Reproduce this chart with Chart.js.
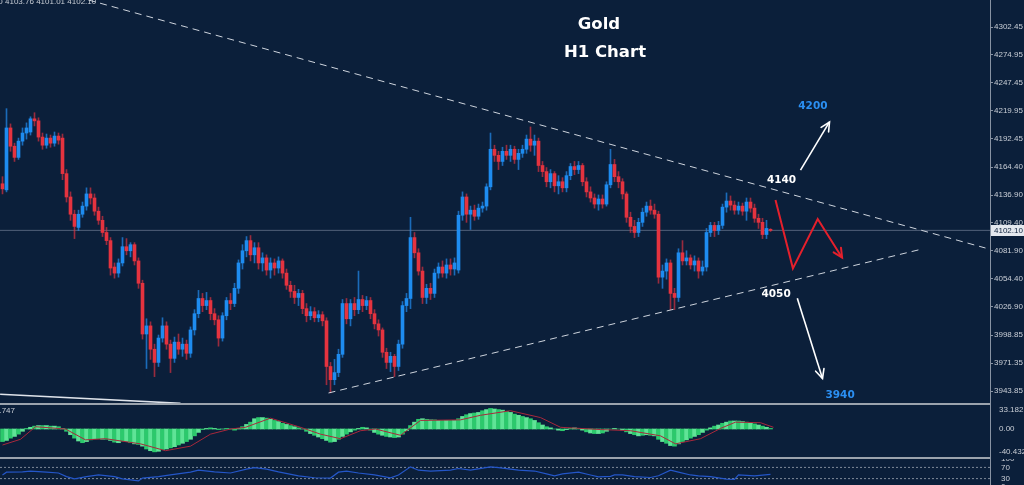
<!DOCTYPE html>
<html>
<head>
<meta charset="utf-8">
<script src="https://cdn.jsdelivr.net/npm/chart.js@4.4.0/dist/chart.umd.min.js"></script>
<style>
  html, body { margin: 0; padding: 0; background: #0b1f3a; width: 1024px; height: 485px; overflow: hidden; }
  canvas { position: absolute; left: 0; }
  #main { top: 0; }
  #macd { top: 405px; }
  #osc { top: 459px; }
  .sep { position: absolute; left: 0; width: 990px; height: 2px; background: #9ba3ad; }
  #vline { position: absolute; left: 990px; top: 0; width: 1px; height: 485px; background: #8893a3; }
</style>
</head>
<body>
<canvas id="main" width="1024" height="403"></canvas>
<canvas id="macd" width="1024" height="52"></canvas>
<canvas id="osc" width="1024" height="28"></canvas>
<div class="sep" style="top:403px"></div>
<div class="sep" style="top:457px"></div>
<div id="vline"></div>
<script>
// H1 candles, oldest first
const opens = [4148,4142,4203,4185,4174,4190,4198,4199,4212,4210,4194,4186,4193,4188,4195,4193,4158,4135,4118,4105,
  4118,4126,4138,4134,4121,4112,4100,4092,4066,4060,4070,4086,4082,4088,4072,4050,4000,4008,3985,3972,
  3996,4008,3990,3976,3992,3985,3990,3981,4004,4020,4035,4028,4033,4020,4014,3996,4018,4033,4030,4045,
  4070,4082,4092,4078,4085,4070,4075,4063,4070,4065,4072,4060,4048,4042,4036,4040,4025,4018,4022,4016,
  4019,4013,3968,3955,3962,3980,4030,4015,4030,4024,4034,4028,4033,4020,4010,4004,3982,3972,3978,3968,
  3990,4028,4035,4095,4080,4062,4036,4045,4040,4060,4066,4060,4068,4064,4063,4117,4135,4118,4122,4116,
  4124,4126,4145,4182,4176,4170,4180,4176,4182,4172,4178,4182,4192,4186,4190,4166,4160,4150,4158,4146,
  4150,4144,4156,4165,4162,4166,4150,4140,4134,4128,4133,4128,4147,4167,4155,4150,4138,4115,4106,4100,
  4110,4120,4126,4122,4118,4056,4062,4070,4040,4036,4080,4072,4075,4068,4072,4062,4066,4100,4107,4102,
  4107,4125,4131,4127,4122,4126,4121,4130,4124,4114,4110,4098,4102.5];
const highs = [4155,4222,4207,4188,4193,4203,4208,4214,4218,4213,4198,4197,4196,4199,4198,4197,4162,4140,4122,4122,
  4130,4144,4144,4138,4125,4116,4105,4095,4070,4074,4095,4094,4090,4090,4075,4053,4015,4012,3990,3999,
  4016,4012,3994,3997,4000,3996,3994,4007,4024,4043,4040,4041,4036,4025,4018,4021,4036,4040,4050,4073,
  4088,4096,4097,4090,4090,4080,4078,4075,4074,4076,4074,4064,4052,4048,4044,4043,4030,4027,4026,4023,
  4022,4016,3972,3975,3985,4034,4035,4034,4036,4062,4038,4037,4036,4024,4014,4006,3986,3982,3980,3994,
  4032,4040,4115,4100,4084,4066,4049,4050,4064,4070,4072,4074,4074,4075,4121,4140,4138,4126,4127,4128,
  4130,4148,4198,4186,4180,4184,4186,4186,4185,4182,4186,4196,4204,4196,4193,4170,4164,4162,4160,4156,
  4154,4160,4168,4170,4170,4168,4154,4145,4138,4137,4137,4150,4182,4172,4160,4153,4140,4120,4112,4114,
  4124,4130,4132,4128,4121,4068,4074,4073,4045,4084,4092,4082,4078,4077,4075,4072,4104,4110,4110,4111,
  4128,4139,4136,4131,4130,4129,4134,4134,4128,4118,4114,4112,4103.76];
const lows = [4138,4140,4180,4170,4172,4186,4192,4196,4205,4190,4182,4183,4184,4185,4187,4152,4130,4112,4094,4102,
  4115,4122,4128,4117,4108,4096,4088,4058,4055,4056,4067,4078,4076,4068,4045,3995,3966,3975,3958,3968,
  3992,3985,3962,3972,3980,3978,3975,3977,3999,4016,4022,4024,4014,4009,3988,3993,4014,4024,4027,4040,
  4064,4076,4072,4070,4064,4062,4058,4055,4058,4060,4055,4044,4036,4030,4028,4020,4012,4014,4012,4012,
  4008,3950,3942,3950,3958,3977,4010,4008,4018,4020,4022,4024,4015,4005,3998,3977,3966,3963,3958,3964,
  3986,4022,4025,4075,4058,4030,4030,4034,4036,4055,4056,4055,4058,4058,4060,4112,4110,4103,4112,4113,
  4120,4122,4142,4170,4162,4166,4172,4170,4168,4162,4174,4178,4180,4176,4160,4155,4145,4144,4140,4138,
  4140,4140,4152,4157,4158,4146,4135,4130,4124,4122,4124,4126,4144,4150,4144,4133,4110,4100,4095,4096,
  4106,4116,4118,4114,4050,4045,4054,4024,4024,4032,4068,4068,4064,4062,4055,4058,4062,4096,4096,4098,
  4104,4120,4122,4118,4118,4117,4112,4120,4110,4104,4094,4094,4101.01];
const closes = [4143,4203,4185,4174,4190,4198,4203,4212,4210,4194,4186,4193,4188,4195,4191,4158,4135,4118,4106,4118,
  4126,4138,4134,4121,4112,4100,4092,4065,4060,4070,4086,4082,4088,4072,4050,4000,4008,3985,3972,3996,
  4008,3990,3976,3992,3985,3990,3981,4004,4020,4035,4028,4033,4020,4014,3996,4018,4033,4030,4045,4070,
  4082,4092,4078,4085,4070,4075,4063,4070,4065,4072,4060,4048,4042,4036,4040,4025,4018,4022,4016,4019,
  4013,3968,3955,3962,3980,4030,4015,4030,4024,4034,4028,4033,4020,4010,4004,3982,3972,3978,3968,3990,
  4028,4035,4095,4080,4062,4036,4045,4040,4060,4066,4060,4068,4064,4070,4117,4135,4118,4122,4116,4124,
  4126,4145,4182,4176,4170,4180,4176,4182,4172,4178,4182,4192,4186,4190,4166,4160,4150,4158,4146,4150,
  4144,4156,4165,4162,4166,4150,4140,4134,4128,4133,4128,4147,4167,4155,4150,4138,4115,4106,4100,4110,
  4120,4126,4122,4118,4056,4062,4070,4040,4036,4080,4072,4075,4068,4072,4062,4066,4100,4107,4102,4107,
  4125,4131,4127,4122,4126,4121,4130,4124,4114,4110,4098,4104,4102.10];

// MACD histogram (one per candle) and signal line
const macdHist = [-22,-20,-16,-13,-9,-4,1,3,5,6,6,6,5,5,4,1,-4,-10,-16,-21,
  -24,-22,-19,-17,-17,-18,-18,-20,-23,-24,-21,-22,-24,-26,-27,-30,-35,-38,-40,-39,
  -36,-35,-33,-31,-28,-25,-22,-18,-12,-6,-1,1,2,1,-1,0,1,0,-2,1,
  4,8,12,18,20,20,19,17,15,13,10,8,6,4,2,0,-4,-8,-11,-14,
  -17,-20,-23,-22,-18,-13,-9,-5,-2,1,3,2,-2,-6,-9,-11,-13,-14,-15,-14,
  -9,-3,6,12,17,18,17,16,16,15,15,15,15,15,18,22,25,27,28,29,
  32,34,36,35,34,33,31,29,26,24,22,20,18,15,11,7,4,2,0,-2,
  -3,-1,1,2,1,-2,-5,-7,-8,-8,-7,-4,0,1,0,-2,-5,-8,-10,-12,
  -11,-10,-11,-12,-18,-22,-25,-29,-30,-26,-22,-19,-16,-13,-10,-6,-2,2,5,7,
  10,12,14,14,14,13,12,11,9,7,5,3,1];
const signalIdx = [0,4.5,8.25,15.75,20.75,25.75,34.5,40.75,47,52,57,60.75,67,74.5,79.5,84.5,89.5,93.25,99.5,104.5,
  114.5,119.5,127,134.5,139.5,149.5,157,164.5,168.25,174.5,179.5,183.25,189.5,192.75];
const signalVal = [-28,-18,4,0,-19,-17,-26,-38,-30,-9,0,3,19,3,-9,-17,-3,0,-11,15,
  16,24,32,20,3,-1,-3,-12,-26,-17,1,12,11,3];

// lower oscillator
const oscIdx = [0,1,5,7,11,14,16,18,21,24,28,30,34,35,39,42,47,49,53,57,61,63,66,69,74,78,82,84,86,89,93,97,99,
  102,104,107,112,114,117,122,124,129,133,136,138,140,144,147,149,152,153,155,158,162,164,167,169,172,174,177,181,183,184,188,192];
const oscVal = [43,53,54,57,53,50,37,29,37,43,37,29,22,32,37,43,53,60,54,50,64,69,64,54,40,33,32,53,57,50,43,33,43,
  72,60,57,60,66,60,72,69,60,57,47,40,47,53,43,36,38,43,43,37,34,40,60,53,43,40,37,28,27,43,40,45];
const oscLevels = [70, 30];

// axis ticks
const priceTicks = [4302.45,4274.95,4247.45,4219.95,4192.45,4164.40,4136.90,4109.40,4081.90,4054.40,4026.90,3998.85,3971.35,3943.85];
const macdTicks = [33.182, 0, -40.432];
const oscTicks = [100, 70, 30, 0];

// drawn lines: [candle index], [price]
const upperTrendX = [21.5, 245.75], upperTrendY = [4329.05, 4084.7];
const lowerTrendX = [81.5, 230], lowerTrendY = [3941.9, 4083.8];
const oldTrendX = [-0.6, 44.5], oldTrendY = [3940.6, 3931.7];
const upArrowX = [199.5, 206.75], upArrowY = [4161.5, 4208.9];
const downArrowX = [198.7, 205], downArrowY = [4035.2, 3956.2];
const zigX = [193.25, 197.6, 203.8, 209.9], zigY = [4132.0, 4064.7, 4113.3, 4075.2];

const levelText = ['4200', '4140', '4050', '3940'];
const levelX = [202.6, 194.75, 193.4, 209.4];
const levelY = [4223.9, 4151.7, 4039.1, 3939.9];

const BG = '#0b1f3a';
const X_MIN = -0.625, X_MAX = 246.875;
const last = closes.length - 1;
const idx = closes.map((_, i) => i);
const isUp = i => closes[i] >= opens[i];

const xScale = { type: 'linear', min: X_MIN, max: X_MAX, offset: false, display: false };
const fixWidth = s => { s.width = 34; s.paddingTop = 0; s.paddingBottom = 0; };
const tickFont = { family: 'Liberation Sans', size: 8 };

function lineSet(xs, ys, color, width, dash, order) {
  return {
    type: 'line', data: xs.map((x, i) => ({ x: x, y: ys[i] })),
    borderColor: color, borderWidth: width, borderDash: dash || [],
    pointRadius: 0, fill: false, tension: 0, order: order || 1
  };
}

function arrowHead(ctx, x1, y1, x2, y2, len, color, w) {
  const a = Math.atan2(y2 - y1, x2 - x1);
  ctx.save();
  ctx.strokeStyle = color; ctx.lineWidth = w; ctx.lineCap = 'round';
  ctx.beginPath();
  ctx.moveTo(x2 - len * Math.cos(a - 0.45), y2 - len * Math.sin(a - 0.45));
  ctx.lineTo(x2, y2);
  ctx.lineTo(x2 - len * Math.cos(a + 0.45), y2 - len * Math.sin(a + 0.45));
  ctx.stroke();
  ctx.restore();
}

const overlay = {
  id: 'overlay',
  afterDatasetsDraw(chart) {
    const { ctx, scales: { x, y } } = chart;
    const heads = [[upArrowX, upArrowY, '#ffffff', 1.6], [downArrowX, downArrowY, '#ffffff', 1.6], [zigX, zigY, '#e5202c', 2]];
    heads.forEach(([xs, ys, c, w]) => {
      const n = xs.length;
      arrowHead(ctx, x.getPixelForValue(xs[n - 2]), y.getPixelForValue(ys[n - 2]),
        x.getPixelForValue(xs[n - 1]), y.getPixelForValue(ys[n - 1]), 10, c, w);
    });
    ctx.save();
    ctx.font = 'bold 10.5px "DejaVu Sans"';
    ctx.textAlign = 'center';
    ctx.textBaseline = 'middle';
    levelText.forEach((t, i) => {
      ctx.fillStyle = (i === 0 || i === 3) ? '#2b8ff2' : '#ffffff';
      ctx.fillText(t, x.getPixelForValue(levelX[i]), y.getPixelForValue(levelY[i]));
    });
    ctx.font = 'bold 16.5px "DejaVu Sans"';
    ctx.fillStyle = '#ffffff';
    ctx.fillText('Gold', 599, 25);
    ctx.fillText('H1 Chart', 605, 53);
    ctx.restore();
  },
  afterDraw(chart) {
    const { ctx, scales: { y } } = chart;
    ctx.save();
    // last price box
    const py = Math.round(y.getPixelForValue(closes[last]));
    ctx.fillStyle = '#e4e8ee';
    ctx.fillRect(991, py - 5, 33, 11);
    ctx.fillStyle = BG;
    ctx.font = '8px "Liberation Sans"';
    ctx.textBaseline = 'middle';
    ctx.fillText(closes[last].toFixed(2), 994, py + 0.5);
    // OHLC header, open value runs off the left edge
    ctx.fillStyle = '#c9ced6';
    const head = opens[last].toFixed(2) + ' ';
    const txt = head + [highs[last], lows[last], closes[last]].map(v => v.toFixed(2)).join(' ');
    ctx.fillText(txt, 5 - ctx.measureText(head).width, 2);
    ctx.restore();
  }
};

new Chart(document.getElementById('main'), {
  type: 'bar',
  data: {
    datasets: [
      lineSet([X_MIN, X_MAX], [closes[last], closes[last]], '#52617a', 1, [], 5),
      {
        type: 'bar', data: idx.map(i => ({ x: i, y: [lows[i], highs[i]] })),
        backgroundColor: c => isUp(c.dataIndex) ? 'rgba(34,140,240,0.7)' : 'rgba(230,50,64,0.65)',
        barThickness: 1, grouped: false, order: 4
      },
      {
        type: 'bar', data: idx.map(i => ({ x: i, y: [opens[i], closes[i]] })),
        backgroundColor: c => isUp(c.dataIndex) ? '#1e8cf0' : '#e5333f',
        barThickness: 3, grouped: false, minBarLength: 1, order: 3
      },
      lineSet(upperTrendX, upperTrendY, '#cfd5de', 1, [7, 5]),
      lineSet(lowerTrendX, lowerTrendY, '#cfd5de', 1, [7, 5]),
      lineSet(oldTrendX, oldTrendY, '#dfe3ea', 1.5),
      lineSet(upArrowX, upArrowY, '#ffffff', 1.6),
      lineSet(downArrowX, downArrowY, '#ffffff', 1.6),
      lineSet(zigX, zigY, '#e5202c', 2)
    ]
  },
  options: {
    responsive: false, animation: false, devicePixelRatio: 1,
    layout: { padding: 0 },
    plugins: { legend: { display: false }, tooltip: { enabled: false } },
    scales: {
      x: xScale,
      y: {
        position: 'right', min: 3932.03, max: 4329.05,
        afterBuildTicks: s => { s.ticks = priceTicks.map(v => ({ value: v })); },
        afterFit: fixWidth,
        ticks: { color: '#c9ced6', font: tickFont, padding: 1, autoSkip: false, callback: v => v.toFixed(2) },
        grid: { drawOnChartArea: false, color: '#8893a3', tickLength: 3 },
        border: { display: false }
      }
    }
  },
  plugins: [overlay]
});

new Chart(document.getElementById('macd'), {
  type: 'bar',
  data: {
    datasets: [
      lineSet(signalIdx, signalVal, '#a8283c', 1, [], 1),
      {
        type: 'bar', data: idx.map(i => ({ x: i, y: macdHist[i] })),
        backgroundColor: c => c.dataIndex % 2 ? '#5fe496' : '#2cc96c',
        barThickness: 4, grouped: false, order: 2
      }
    ]
  },
  options: {
    responsive: false, animation: false, devicePixelRatio: 1,
    layout: { padding: 0 },
    plugins: { legend: { display: false }, tooltip: { enabled: false } },
    scales: {
      x: xScale,
      y: {
        position: 'right', min: -49, max: 42,
        afterBuildTicks: s => { s.ticks = macdTicks.map(v => ({ value: v })); },
        afterFit: fixWidth,
        ticks: { color: '#c9ced6', font: tickFont, padding: 1, autoSkip: false, callback: v => v === 0 ? '0.00' : v.toFixed(3) },
        grid: { display: false },
        border: { display: false }
      }
    }
  },
  plugins: [{
    id: 'macdLabel',
    afterDraw(chart) {
      const ctx = chart.ctx;
      ctx.save();
      ctx.fillStyle = '#c9ced6';
      ctx.font = '8px "Liberation Sans"';
      ctx.textAlign = 'right';
      ctx.textBaseline = 'middle';
      ctx.fillText('-2.747', 15, 6);
      ctx.restore();
    }
  }]
});

new Chart(document.getElementById('osc'), {
  type: 'line',
  data: {
    datasets: [
      lineSet([X_MIN, X_MAX], [oscLevels[0], oscLevels[0]], '#7f8a99', 1, [2, 2], 2),
      lineSet([X_MIN, X_MAX], [oscLevels[1], oscLevels[1]], '#7f8a99', 1, [2, 2], 2),
      lineSet(oscIdx, oscVal, '#2456c8', 1.2, [], 1)
    ]
  },
  options: {
    responsive: false, animation: false, devicePixelRatio: 1,
    layout: { padding: 0 },
    plugins: { legend: { display: false }, tooltip: { enabled: false } },
    scales: {
      x: xScale,
      y: {
        position: 'right', min: 0, max: 100,
        afterBuildTicks: s => { s.ticks = oscTicks.map(v => ({ value: v })); },
        afterFit: fixWidth,
        ticks: { color: '#c9ced6', font: tickFont, padding: 3, autoSkip: false },
        grid: { display: false },
        border: { display: false }
      }
    }
  }
});
</script>
</body>
</html>
